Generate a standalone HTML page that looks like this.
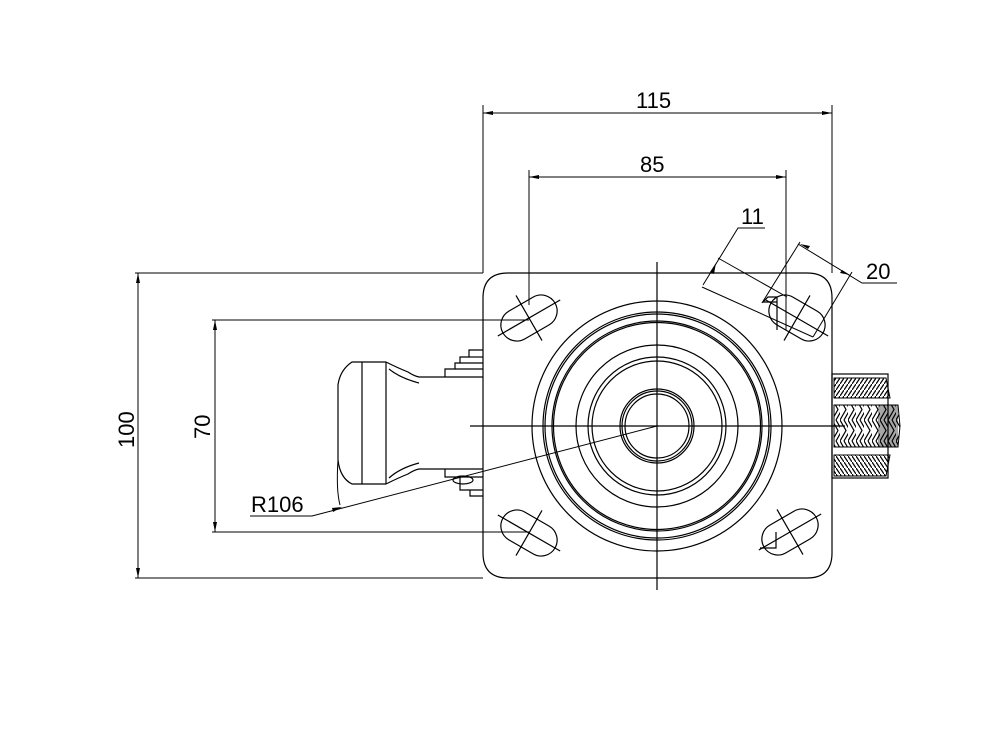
<!DOCTYPE html>
<html><head><meta charset="utf-8"><style>html,body{margin:0;padding:0;background:#fff}svg{display:block}</style></head><body>
<svg width="1005" height="736" viewBox="0 0 1005 736" xmlns="http://www.w3.org/2000/svg">
<defs>
<pattern id="h1" width="4" height="6" patternUnits="userSpaceOnUse"><line x1="0" y1="6" x2="4" y2="0" stroke="#000" stroke-width="1.2"/></pattern>
<pattern id="h2" width="4" height="6" patternUnits="userSpaceOnUse"><line x1="0" y1="0" x2="4" y2="6" stroke="#000" stroke-width="1.2"/></pattern>
<pattern id="h3" width="8" height="21" patternUnits="userSpaceOnUse"><polyline points="0,0 6,10.5 0,21" fill="none" stroke="#000" stroke-width="1.2"/><polyline points="4,0 10,10.5 4,21" fill="none" stroke="#000" stroke-width="1.2"/></pattern>
</defs>
<g fill="none" stroke="#000" stroke-width="1.2">
<path d="M508 273 H807 Q832 273 832 298 V553 Q832 578 807 578 H508 Q483 578 483 553 V298 Q483 273 508 273 Z"/>
<line x1="657" y1="262" x2="657" y2="590"/>
<line x1="470" y1="426" x2="845" y2="426"/>
<circle cx="657" cy="426" r="125"/>
<circle cx="657" cy="426" r="114"/>
<circle cx="657" cy="426" r="112"/>
<circle cx="657" cy="426" r="105"/>
<circle cx="657" cy="426" r="103.5"/>
<circle cx="657" cy="426" r="81"/>
<circle cx="657" cy="426" r="69"/>
<circle cx="657" cy="426" r="65"/>
<circle cx="657" cy="426" r="37"/>
<circle cx="657" cy="426" r="35"/>
<circle cx="657" cy="426" r="32"/>
<g transform="translate(529,318) rotate(-30)"><path d="M-14 -16 H14 A16 16 0 0 1 14 16 H-14 A16 16 0 0 1 -14 -16 Z"/><line x1="-36" y1="0" x2="36" y2="0"/><line x1="0" y1="-26" x2="0" y2="26"/></g>
<g transform="translate(797,318) rotate(30)"><path d="M-14 -16 H14 A16 16 0 0 1 14 16 H-14 A16 16 0 0 1 -14 -16 Z"/><line x1="-36" y1="0" x2="36" y2="0"/><line x1="0" y1="-26" x2="0" y2="26"/></g>
<g transform="translate(529,533) rotate(30)"><path d="M-14 -16 H14 A16 16 0 0 1 14 16 H-14 A16 16 0 0 1 -14 -16 Z"/><line x1="-36" y1="0" x2="36" y2="0"/><line x1="0" y1="-26" x2="0" y2="26"/></g>
<g transform="translate(790,532) rotate(-30)"><path d="M-14 -16 H14 A16 16 0 0 1 14 16 H-14 A16 16 0 0 1 -14 -16 Z"/><line x1="-36" y1="0" x2="36" y2="0"/><line x1="0" y1="-26" x2="0" y2="26"/></g>
<path d="M777 330 V297 H768 L763 302 H777"/>
<path d="M776 532 V548 H760"/>
<path d="M386 362 H352 Q340 370 338 385 V460 Q340 478 352 484 H386"/>
<line x1="362" y1="362" x2="362" y2="484"/>
<line x1="386" y1="362" x2="386" y2="484"/>
<path d="M386 362 Q398 368 408 372 Q414 376 419 377 H483"/>
<path d="M389 369 Q400 378 419 383"/>
<path d="M386 484 Q398 478 408 474 Q414 470 419 469 H483"/>
<path d="M389 478 Q400 468 419 463"/>
<path d="M445 377 V369 H455 V363 H460 V357 H469 V350 H483"/>
<line x1="455" y1="369" x2="483" y2="369"/><line x1="460" y1="363" x2="483" y2="363"/><line x1="469" y1="357" x2="483" y2="357"/>
<path d="M445 469 V477 H483"/><path d="M460 477 V490 H483"/><path d="M470 490 V496 H483"/>
<ellipse cx="463" cy="480" rx="10" ry="4"/>
<rect x="832" y="374" width="56" height="104"/>
</g>
<path d="M834 378 H886 L890 398 H834 Z" fill="url(#h1)" stroke="#000"/>
<path d="M834 405 H898 L900 426 L898 447 H834 Z" fill="url(#h3)" stroke="#000"/>
<path d="M834 455 H890 L886 476 H834 Z" fill="url(#h2)" stroke="#000"/>
<rect x="878" y="405" width="20" height="42" fill="#000" opacity="0.35"/>
<g fill="none" stroke="#000" stroke-width="1">
<line x1="483" y1="105" x2="483" y2="273"/><line x1="832" y1="105" x2="832" y2="273"/>
<line x1="483" y1="113" x2="832" y2="113"/>
<line x1="529" y1="170" x2="529" y2="305"/><line x1="786" y1="170" x2="786" y2="330"/>
<line x1="529" y1="177" x2="786" y2="177"/>
<line x1="135" y1="273" x2="483" y2="273"/><line x1="135" y1="578" x2="483" y2="578"/>
<line x1="138" y1="273" x2="138" y2="578"/>
<line x1="212" y1="320" x2="529" y2="320"/><line x1="212" y1="532" x2="529" y2="532"/>
<line x1="215" y1="320" x2="215" y2="532"/>
<polyline points="250,516 312,516 657,426"/>
<path d="M340 505 Q336 490 338 460"/>
<line x1="702" y1="287" x2="813" y2="337"/>
<line x1="718" y1="258" x2="787" y2="297"/>
<polyline points="703,285 738,228 765,228"/>
<line x1="800" y1="242" x2="762" y2="303"/>
<line x1="852" y1="272" x2="813" y2="337"/>
<polyline points="798,244 862,283 897,283"/>
</g>
<g fill="#000">
<polygon points="483,113 493,111 493,115"/><polygon points="832,113 822,111 822,115"/>
<polygon points="529,177 539,175 539,179"/><polygon points="786,177 776,175 776,179"/>
<polygon points="138,273 136,283 140,283"/><polygon points="138,578 136,568 140,568"/>
<polygon points="215,320 213,330 217,330"/><polygon points="215,532 213,522 217,522"/>
<polygon points="342,507 332,508 333,512"/>
<polygon points="716,263 710,272 714,274"/>
<polygon points="800,244 808,249 810,246"/>
<polygon points="850,275 842,270 840,273"/>
</g>
<g font-family="Liberation Sans, sans-serif" font-size="22" fill="#000">
<text x="636" y="108">115</text>
<text x="640" y="172">85</text>
<text x="741" y="224">11</text>
<text x="866" y="279">20</text>
<text x="251" y="512">R106</text>
<text transform="translate(134,448) rotate(-90)">100</text>
<text transform="translate(210,439) rotate(-90)">70</text>
</g>
<line x1="250" y1="516" x2="312" y2="516" stroke="#000"/>
</svg>
</body></html>
